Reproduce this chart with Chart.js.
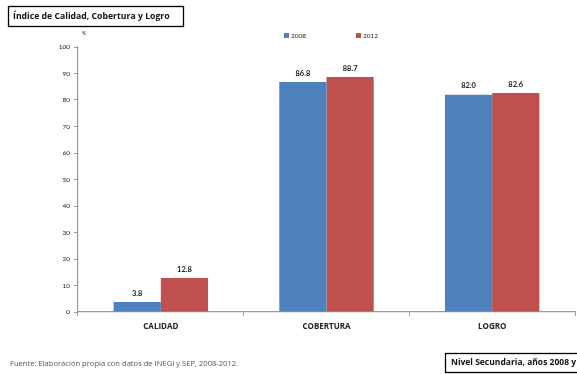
<!DOCTYPE html>
<html>
<head>
<meta charset="utf-8">
<script src="https://cdn.jsdelivr.net/npm/chart.js@4"></script>
<style>
  html, body { margin: 0; padding: 0; background: #fff; }
  #wrap { width: 577px; height: 374px; position: relative; }
</style>
</head>
<body>
<div id="wrap"><canvas id="chart" width="577" height="374"></canvas></div>
<script>
const categories = ["CALIDAD", "COBERTURA", "LOGRO"];
const seriesNames = ["2008", "2012"];
const values2008 = [3.8, 86.8, 82.0];
const values2012 = [12.8, 88.7, 82.6];
const yTicks = [0, 10, 20, 30, 40, 50, 60, 70, 80, 90, 100];

const titleText = "Índice de Calidad, Cobertura y Logro";
const sourceText = "Fuente: Elaboración propia con datos de INEGI y SEP, 2008-2012.";
const noteText = "Nivel Secundaria, años 2008 y 2012";

const FONT = "Lato, 'Open Sans', sans-serif";
const WIDE = "'Open Sans', Lato, sans-serif";
const BLUE = "#4f81bd";
const RED = "#c0504d";

// value labels, legend, title box and footer
const decorations = {
  id: "decorations",
  afterDatasetsDraw(chart) {
    const ctx = chart.ctx;
    ctx.save();
    // value labels above bars
    ctx.font = "bold 7.5px " + FONT;
    ctx.fillStyle = "#222";
    ctx.textAlign = "center";
    ctx.textBaseline = "bottom";
    chart.data.datasets.forEach((ds, i) => {
      chart.getDatasetMeta(i).data.forEach((bar, j) => {
        ctx.fillText(ds.data[j].toFixed(1), bar.x, bar.y - 5);
      });
    });

    // legend
    ctx.font = "6.5px " + FONT;
    ctx.textAlign = "left";
    ctx.textBaseline = "middle";
    const legendX = [284, 356];
    chart.data.datasets.forEach((ds, i) => {
      ctx.fillStyle = ds.backgroundColor;
      ctx.fillRect(legendX[i], 33, 5, 5);
      ctx.fillStyle = "#222";
      ctx.fillText(ds.label, legendX[i] + 7, 36);
    });

    // "%" marker
    ctx.font = "5px " + FONT;
    ctx.fillText("%", 82, 33);

    // title box
    ctx.strokeStyle = "#000";
    ctx.lineWidth = 1.3;
    ctx.strokeRect(8.5, 6.5, 175, 20);
    ctx.font = "bold 8.7px " + WIDE;
    ctx.fillStyle = "#111";
    ctx.fillText(titleText, 13, 16.5);

    // footer
    ctx.font = "7.6px " + WIDE;
    ctx.fillStyle = "#555";
    ctx.fillText(sourceText, 10, 364);

    ctx.strokeRect(445.5, 353.5, 140, 19);
    ctx.font = "bold 8.5px " + WIDE;
    ctx.fillStyle = "#111";
    ctx.fillText(noteText, 451, 363);
    ctx.restore();
  }
};

new Chart(document.getElementById("chart"), {
  type: "bar",
  data: {
    labels: categories,
    datasets: [
      { label: seriesNames[0], data: values2008, backgroundColor: BLUE },
      { label: seriesNames[1], data: values2012, backgroundColor: RED }
    ]
  },
  options: {
    responsive: false,
    animation: false,
    layout: { padding: { top: 47, left: 0, right: 2, bottom: 0 } },
    datasets: { bar: { categoryPercentage: 0.57, barPercentage: 1.0 } },
    plugins: {
      legend: { display: false },
      tooltip: { enabled: false }
    },
    scales: {
      x: {
        grid: {
          display: true,
          drawOnChartArea: false,
          offset: true,
          color: "#9a9a9a",
          tickLength: 4
        },
        border: { color: "#9a9a9a", width: 1.2 },
        ticks: { color: "#222", font: { size: 8, family: WIDE, weight: "bold" }, padding: 6 },
        afterFit(scale) { scale.height = 62; }
      },
      y: {
        min: 0,
        max: 100,
        afterBuildTicks(scale) { scale.ticks = yTicks.map(v => ({ value: v })); },
        grid: {
          display: true,
          drawOnChartArea: false,
          color: "#9a9a9a",
          tickLength: 4
        },
        border: { color: "#9a9a9a", width: 1.2 },
        ticks: { color: "#222", font: { size: 6.5, family: FONT }, padding: 4 },
        afterFit(scale) { scale.width = 78; }
      }
    }
  },
  plugins: [decorations]
});
</script>
</body>
</html>
